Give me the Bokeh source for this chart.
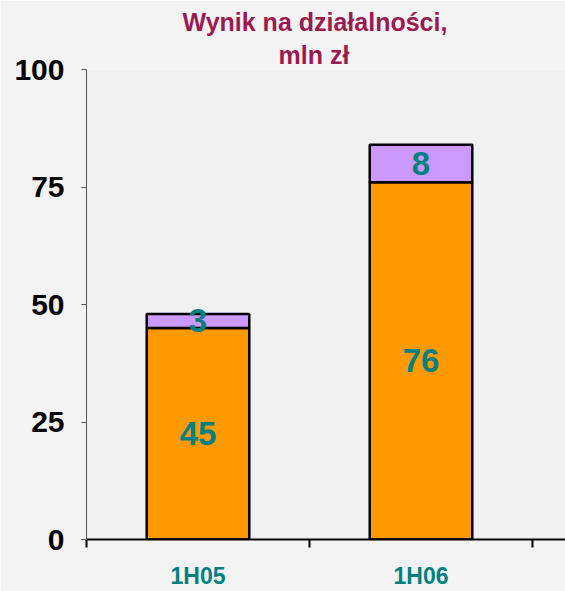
from bokeh.plotting import figure
from bokeh.models import Range1d, FixedTicker, Title, ColumnDataSource
from bokeh.core.properties import value
from bokeh.embed import file_html
from bokeh.resources import INLINE

categories = ["1H05", "1H06"]
base_values = [45, 76]
top_values = [3, 8]
y_ticks = [0, 25, 50, 75, 100]

FONT = "'Liberation Sans', Arial, sans-serif"
TEAL = "#008080"

xs = [i + 0.5 for i in range(len(categories))]
tops = [b + t for b, t in zip(base_values, top_values)]

p = figure(width=565, height=591, output_backend="svg", toolbar_location=None,
           x_range=Range1d(0, 2.148), y_range=Range1d(0, 100),
           min_border_left=86, min_border_right=0, min_border_bottom=52, min_border_top=69)
p.background_fill_color = "#f1f1f1"
p.border_fill_color = "#f3f3f3"
p.outline_line_color = None
p.grid.visible = False

src = ColumnDataSource(dict(x=xs, base=base_values, top=tops, zero=[0] * len(xs),
                            base_lbl=[str(v) for v in base_values],
                            top_lbl=[str(v) for v in top_values],
                            base_mid=[b / 2 for b in base_values],
                            top_mid=[b + t / 2 for b, t in zip(base_values, top_values)]))

p.vbar(x="x", bottom="zero", top="base", width=0.46, source=src,
       fill_color="#ff9900", line_color="black", line_width=2.5)
p.vbar(x="x", bottom="base", top="top", width=0.46, source=src,
       fill_color="#cc99ff", line_color="black", line_width=2.5)

for lbl, ycol in (("base_lbl", "base_mid"), ("top_lbl", "top_mid")):
    p.text(x="x", y=ycol, text=lbl, source=src, text_align="center", text_baseline="middle",
           text_color=TEAL, text_font=value(FONT), text_font_size="33px", text_font_style="bold")

# y axis
p.yaxis.ticker = FixedTicker(ticks=y_ticks)
p.yaxis.major_label_text_font = FONT
p.yaxis.major_label_text_font_size = "30px"
p.yaxis.major_label_text_font_style = "bold"
p.yaxis.major_label_text_color = "black"
p.yaxis.major_tick_out = 5
p.yaxis.major_tick_in = 0
p.yaxis.minor_tick_out = 0
p.yaxis.minor_tick_in = 0
p.yaxis.axis_line_color = "#555555"
p.yaxis.major_tick_line_color = "#555555"
p.yaxis.major_label_standoff = 17

# x axis
p.xaxis.ticker = FixedTicker(ticks=xs, minor_ticks=[0, 1, 2])
p.xaxis.major_label_overrides = {x: c for x, c in zip(xs, categories)}
p.xaxis.major_label_text_font = FONT
p.xaxis.major_label_text_font_size = "23px"
p.xaxis.major_label_text_font_style = "bold"
p.xaxis.major_label_text_color = TEAL
p.xaxis.major_tick_out = 0
p.xaxis.major_tick_in = 0
p.xaxis.minor_tick_out = 8
p.xaxis.minor_tick_in = 0
p.xaxis.minor_tick_line_color = "black"
p.xaxis.minor_tick_line_width = 2
p.xaxis.axis_line_color = "black"
p.xaxis.axis_line_width = 2
p.xaxis.major_label_standoff = 15

TITLE_COLOR = "#9b1b50"
p.add_layout(Title(text="mln zł", align="left", text_font=FONT, text_font_size="25px",
                   text_font_style="bold", text_color=TITLE_COLOR, offset=192, standoff=2), "above")
p.add_layout(Title(text="Wynik na działalności,", align="left", text_font=FONT,
                   text_font_size="25px", text_font_style="bold", text_color=TITLE_COLOR,
                   offset=96, standoff=4), "above")

open("out.html", "w").write(file_html(p, INLINE))
